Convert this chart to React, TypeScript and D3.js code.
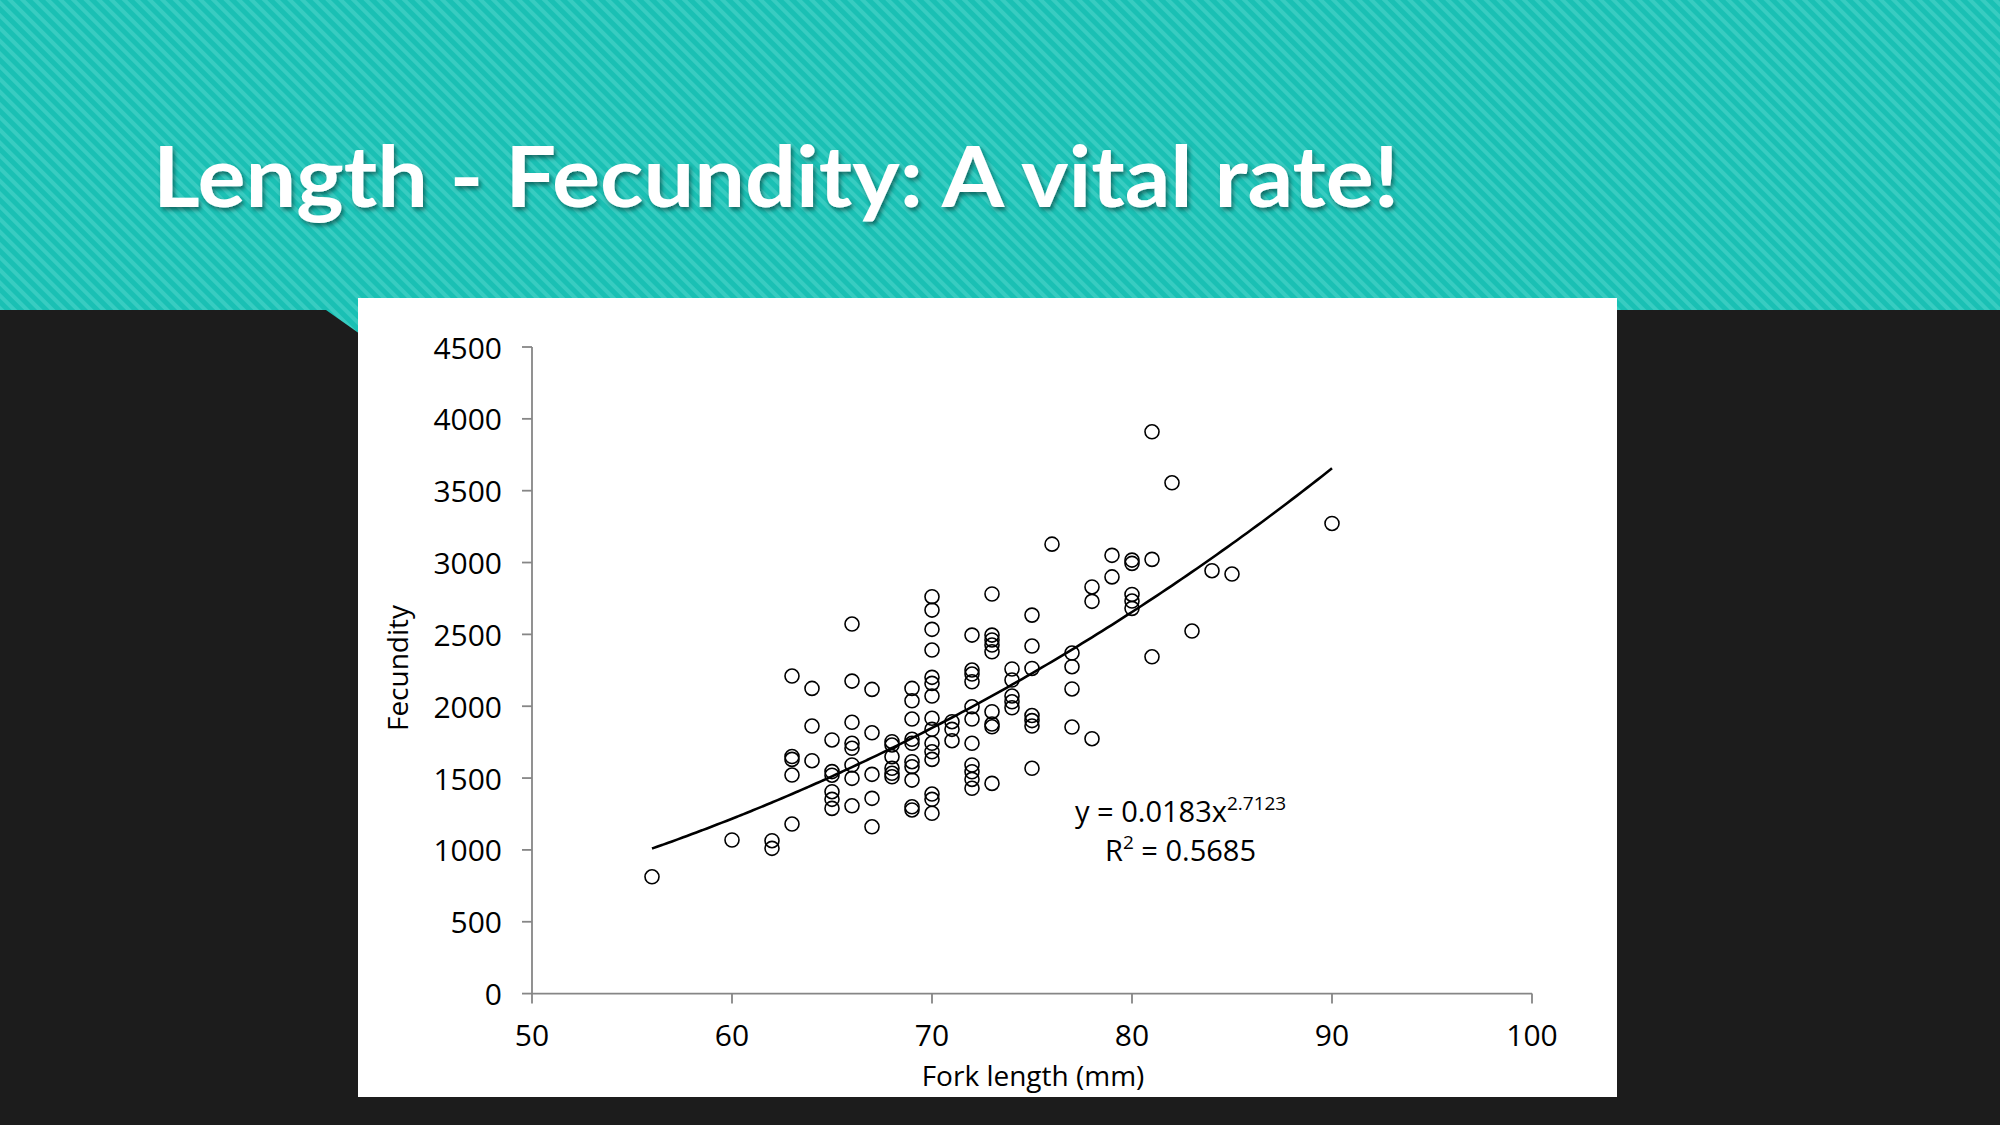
import React from 'react';
import * as d3 from 'd3';

// ---- data ----
const forkLengths = [56, 60, 62, 63, 64, 65, 66, 67, 68, 69, 70, 71, 72, 73, 74, 75, 76, 77, 78, 79, 80, 81, 82, 83, 84, 85, 90];
const fecundityByLength = [
  [813],
  [1069],
  [1064, 1011],
  [2210, 1650, 1630, 1521, 1180],
  [2124, 1862, 1621],
  [1765, 1545, 1520, 1405, 1352, 1289],
  [2572, 2175, 1888, 1742, 1707, 1591, 1498, 1307],
  [2117, 1815, 1526, 1359, 1161],
  [1753, 1730, 1649, 1568, 1533, 1509],
  [2124, 2038, 1911, 1770, 1742, 1614, 1579, 1486, 1300, 1278],
  [2762, 2669, 2535, 2391, 2201, 2159, 2071, 1916, 1839, 1742, 1683, 1630, 1389, 1352, 1255],
  [1892, 1839, 1760],
  [2495, 2252, 2224, 2170, 1996, 1911, 1742, 1591, 1544, 1491, 1429],
  [2781, 2495, 2461, 2426, 2379, 1962, 1876, 1857, 1463],
  [2259, 2182, 2071, 2031, 1989],
  [2634, 2419, 2263, 1935, 1900, 1862, 1568],
  [3128],
  [2370, 2275, 2120, 1855],
  [2830, 2730, 1774],
  [3050, 2900],
  [3017, 2994, 2778, 2732, 2681],
  [3910, 3022, 2344],
  [3555],
  [2523],
  [2943],
  [2920],
  [3272],
];
const xTicks = [50, 60, 70, 80, 90, 100];
const yTicks = [0, 500, 1000, 1500, 2000, 2500, 3000, 3500, 4000, 4500];
const fitCoef = 0.0183;
const fitExp = 2.7123;
const fitRange = [56, 90];
const rSquared = '0.5685';
const titleText = 'Length - Fecundity: A vital rate!';
const xLabel = 'Fork length (mm)';
const yLabel = 'Fecundity';

const W = 2000;
const H = 1125;

export default function App() {
  const x = d3.scaleLinear().domain([50, 100]).range([532, 1532]);
  const y = d3.scaleLinear().domain([0, 4500]).range([993.6, 347]);

  const points = forkLengths.flatMap((fl, i) => fecundityByLength[i].map((f) => ({ fl, f })));

  const fitX = d3.range(fitRange[0], fitRange[1] + 0.001, 0.25);
  const line = d3
    .line<number>()
    .x((d) => x(d))
    .y((d) => y(fitCoef * Math.pow(d, fitExp)))
    .curve(d3.curveMonotoneX);

  const axisColor = '#868686';
  const chartFont = "'Open Sans', sans-serif";

  return (
    <svg
      width={W}
      height={H}
      viewBox={`0 0 ${W} ${H}`}
      style={{ position: 'fixed', left: 0, top: 0, display: 'block' }}
    >
      <defs>
        <pattern id="stripes" width="9" height="9" patternUnits="userSpaceOnUse" patternTransform="rotate(45)">
          <rect width="9" height="9" fill="#1ac0b4" />
          <rect width="9" height="4" fill="#38ccc1" />
        </pattern>
        <filter id="shadow" x="-5%" y="-20%" width="110%" height="140%">
          <feDropShadow dx="2" dy="3" stdDeviation="2" floodColor="#000" floodOpacity="0.45" />
        </filter>
      </defs>

      {/* background */}
      <rect x={0} y={0} width={W} height={H} fill="#1c1c1c" />
      <rect x={0} y={0} width={W} height={310} fill="url(#stripes)" />
      <polygon points="326,310 360,310 360,334" fill="url(#stripes)" />

      {/* title */}
      <text
        x={153}
        y={207}
        fill="#ffffff"
        fontFamily="Lato, sans-serif"
        fontWeight="bold"
        fontSize={84}
        textLength={1246}
        lengthAdjust="spacingAndGlyphs"
        filter="url(#shadow)"
      >
        {titleText}
      </text>

      {/* chart panel */}
      <rect x={358} y={298} width={1259} height={799} fill="#ffffff" />

      {/* axes */}
      <g stroke={axisColor} strokeWidth={1.8} fill="none">
        <line x1={x(50)} x2={x(50)} y1={y(4500)} y2={y(0)} />
        <line x1={x(50)} x2={x(100)} y1={y(0)} y2={y(0)} />
        {yTicks.map((t) => (
          <line key={`yt${t}`} x1={x(50) - 10} x2={x(50)} y1={y(t)} y2={y(t)} />
        ))}
        {xTicks.map((t) => (
          <line key={`xt${t}`} x1={x(t)} x2={x(t)} y1={y(0)} y2={y(0) + 10} />
        ))}
      </g>

      <g fontFamily={chartFont} fontSize={30} fill="#000">
        {yTicks.map((t) => (
          <text key={`yl${t}`} x={502} y={y(t)} textAnchor="end" dominantBaseline="central">
            {t}
          </text>
        ))}
        {xTicks.map((t) => (
          <text key={`xl${t}`} x={x(t)} y={1046} textAnchor="middle">
            {t}
          </text>
        ))}
      </g>

      <text x={1033} y={1086} textAnchor="middle" fontFamily={chartFont} fontSize={28} fill="#000">
        {xLabel}
      </text>
      <text
        transform="translate(408,668) rotate(-90)"
        textAnchor="middle"
        fontFamily={chartFont}
        fontSize={28}
        fill="#000"
      >
        {yLabel}
      </text>

      {/* points */}
      <g fill="none" stroke="#000" strokeWidth={1.6}>
        {points.map((p, i) => (
          <circle key={i} cx={x(p.fl)} cy={y(p.f)} r={7} />
        ))}
      </g>

      {/* trend line */}
      <path d={line(fitX) || ''} fill="none" stroke="#000" strokeWidth={2.6} />

      {/* equation */}
      <g fontFamily={chartFont} fill="#000">
        <text x={1075} y={822} fontSize={29}>
          y = {fitCoef}x
          <tspan fontSize={19} dy={-12}>
            {fitExp}
          </tspan>
        </text>
        <text x={1105} y={861} fontSize={29}>
          R<tspan fontSize={19} dy={-12}>2</tspan>
          <tspan dy={12}> = {rSquared}</tspan>
        </text>
      </g>
    </svg>
  );
}
